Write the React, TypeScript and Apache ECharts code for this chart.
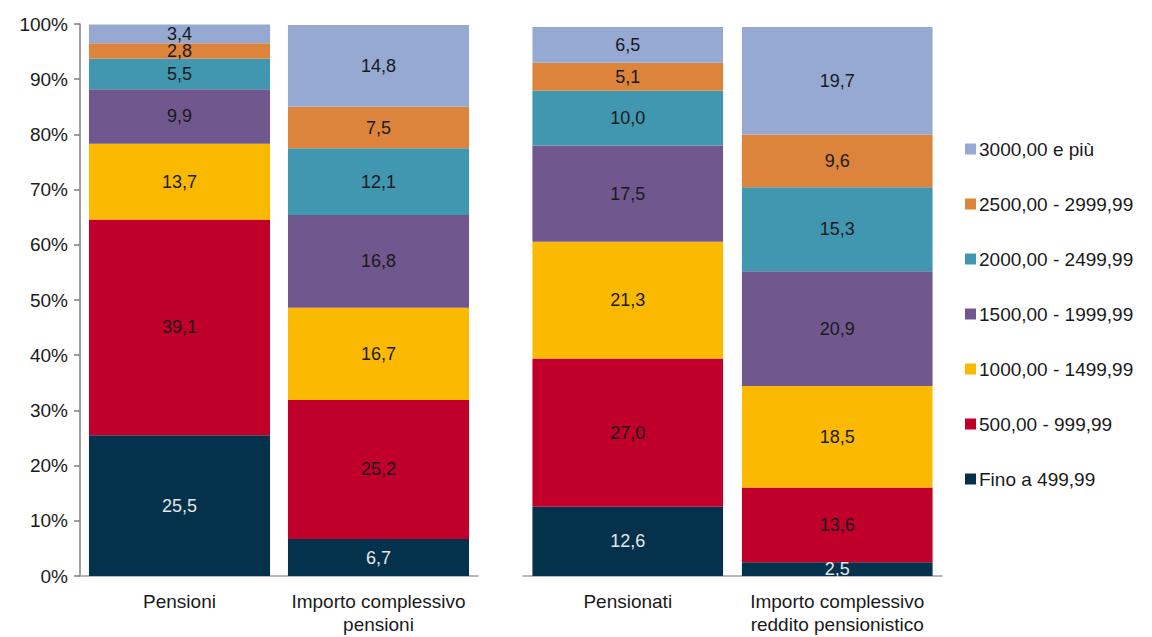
import React, { useEffect, useRef } from "react";
import * as echarts from "echarts";

const seriesNames = [
  "Fino a 499,99",
  "500,00 - 999,99",
  "1000,00 - 1499,99",
  "1500,00 - 1999,99",
  "2000,00 - 2499,99",
  "2500,00 - 2999,99",
  "3000,00 e più",
];
const colors = ["#04314C", "#C0002A", "#FBBA00", "#70588F", "#4197AF", "#DD843C", "#95A9D2"];

const categoriesLeft = ["Pensioni", "Importo complessivo\npensioni"];
const categoriesRight = ["Pensionati", "Importo complessivo\nreddito pensionistico"];

// values per series: [left cat 1, left cat 2]
const leftValues = [
  [25.5, 6.7],
  [39.1, 25.2],
  [13.7, 16.7],
  [9.9, 16.8],
  [5.5, 12.1],
  [2.8, 7.5],
  [3.4, 14.8],
];
const rightValues = [
  [12.6, 2.5],
  [27.0, 13.6],
  [21.3, 18.5],
  [17.5, 20.9],
  [10.0, 15.3],
  [5.1, 9.6],
  [6.5, 19.7],
];
const yTicks = [0, 10, 20, 30, 40, 50, 60, 70, 80, 90, 100];

const FONT = "'Liberation Sans', Arial, sans-serif";

export default function App() {
  const ref = useRef<HTMLDivElement>(null);
  useEffect(() => {
    document.body.style.margin = "0";
    if (!ref.current) return;
    const chart = echarts.init(ref.current, null, { renderer: "svg" });
    const mkSeries = (vals: number[][], idx: number) =>
      vals.map((v, i) => ({
        name: seriesNames[i],
        type: "bar",
        stack: "s" + idx,
        xAxisIndex: idx,
        yAxisIndex: idx,
        barCategoryGap: "9%",
        data: v,
        itemStyle: { color: colors[i] },
        label: {
          show: true,
          position: "inside",
          fontFamily: FONT,
          fontSize: 18,
          lineHeight: 16,
          color: i === 0 ? "#E6E6E6" : "#1A1A1A",
          formatter: (p: any) => Number(p.value).toFixed(1).replace(".", ","),
        },
      }));
    const xAxisCommon = {
      type: "category",
      axisLine: { lineStyle: { color: "#A0A0A0", width: 1.5 } },
      axisTick: { length: 6, lineStyle: { color: "#A0A0A0", width: 1.5 } },
      axisLabel: {
        fontFamily: FONT,
        fontSize: 19,
        color: "#1A1A1A",
        margin: 14,
        lineHeight: 23,
        interval: 0,
      },
    };
    chart.setOption({
      animation: false,
      textStyle: { fontFamily: FONT },
      grid: [
        { left: 80, top: 24, width: 398, height: 552 },
        { left: 523, top: 27, width: 419, height: 549 },
      ],
      xAxis: [
        { ...xAxisCommon, gridIndex: 0, data: categoriesLeft },
        { ...xAxisCommon, gridIndex: 1, data: categoriesRight },
      ],
      yAxis: [
        {
          type: "value",
          gridIndex: 0,
          min: 0,
          max: 100,
          interval: 10,
          splitLine: { show: false },
          axisLine: { show: true, lineStyle: { color: "#808080", width: 1.5 } },
          axisTick: { show: true, length: 6, lineStyle: { color: "#808080", width: 1.5 } },
          axisLabel: {
            fontFamily: FONT,
            fontSize: 19,
            color: "#1A1A1A",
            margin: 12,
            formatter: (v: number) => (yTicks.includes(v) ? v + "%" : ""),
          },
        },
        {
          type: "value",
          gridIndex: 1,
          min: 0,
          max: 100,
          show: false,
          splitLine: { show: false },
        },
      ],
      legend: {
        orient: "vertical",
        left: 960,
        top: 133,
        data: [...seriesNames].reverse(),
        icon: "rect",
        itemWidth: 11,
        itemHeight: 11,
        itemGap: 33,
        textStyle: { fontFamily: FONT, fontSize: 19, color: "#1A1A1A", lineHeight: 22, padding: [0, 0, 0, -2] },
      },
      series: [...mkSeries(leftValues, 0), ...mkSeries(rightValues, 1)],
    });
    return () => chart.dispose();
  }, []);
  return <div ref={ref} style={{ width: 1152, height: 637 }} />;
}
